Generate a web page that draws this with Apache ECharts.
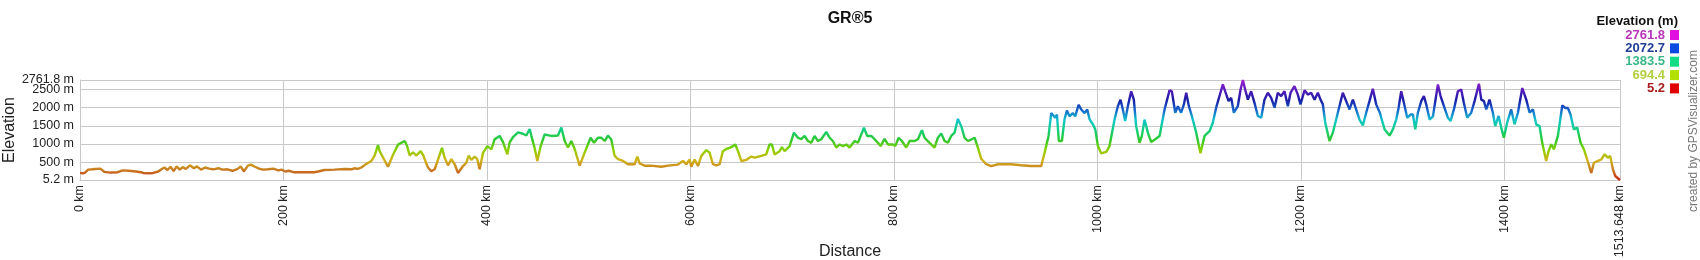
<!DOCTYPE html>
<html>
<head>
<meta charset="utf-8">
<script src="https://cdn.jsdelivr.net/npm/echarts@6.0.0/dist/echarts.min.js"></script>
<style>
  html, body { margin: 0; padding: 0; background: #fff; }
  #chart { width: 1700px; height: 260px; }
</style>
</head>
<body>
<div id="chart"></div>
<script>
const chartTitle = 'GR®5';
const FONT = '"Liberation Sans", Arial, sans-serif';

const distanceKm = [
  0,3,5,8,12,15,20,24,30,37,42,48,55,60,62,68,72,77,80,83,86,89,92,95,98,101,104,108,112,115,119,123,127,131,136,140,145,150,155,158,161,165,168,172,176,180,185,190,195,198,202,205,210,220,230,234,240,250,
  260,267,270,273,276.5,281.4,286.4,289.6,292.9,294.5,302.7,307.7,312.6,319.1,321.4,324,327.3,330.6,334.8,337.1,342,345.3,348.6,351.9,355.8,358.4,361.7,365,368.3,371.5,376.5,379.7,382,384.6,387.9,390.5,392.8,396.1,400.4,404.3,407.6,412.5,415.8,420,422.3,425.6,430.5,435.4,438.7,442,443.6,446.9,449.5,452.8,456.7,463.3,469.8,473.1,476.4,479.6,482.9,486.2,491.1,496,501.9,505.2,509.1,
  512.4,515.7,518.9,522.2,525.5,528.8,533.7,538.6,545.1,547.8,550.1,555,561.5,571.3,577.9,587.7,592.6,595.9,599.2,600.8,604.1,607.4,610.7,615.6,618.8,622.1,625.4,628.7,631.9,635.2,638.5,641.8,644.1,646.7,650,654.9,659.8,663.1,669.6,674.5,677.8,680.1,682.7,687.6,689.9,692.6,697.5,701.7,705.7,708.9,712.2,715.5,718.8,722,725.3,728.6,733.5,736.8,740,743.3,746.6,749.9,753.2,756.4,761.4,764.6,
  767.9,770.5,773.8,777.7,781,784.3,786.9,790.8,794.1,799,801.3,804.6,807.8,812.1,815.4,820.3,823.6,827.5,830.1,835,839.9,843.2,846.5,849.8,853,856.3,859.6,862.9,866.2,869.4,872.7,876,879.3,882.5,885.8,890.7,895.6,902.2,915.3,925.1,935,944.8,948.1,952,954.6,956.3,958.5,960.2,962.1,965.1,967.7,970,972.6,975.9,978.2,981.5,984.1,987.4,990,992.3,995.6,997.9,1000.5,1003.7,1008.7,1011.9,1016.9,1020.1,
  1022.7,1025,1027.3,1029.9,1033.2,1035.8,1038.1,1041.4,1043.7,1046.3,1049.6,1052.9,1056.8,1061.1,1066,1070.9,1073.2,1076.5,1079.1,1082.3,1085,1087.3,1089.9,1092.8,1097.1,1101.3,1105.3,1110.2,1113.5,1116.7,1120,1123.3,1125.6,1128.9,1131.5,1134.1,1138,1140.7,1143,1145.2,1147.9,1151.1,1154.4,1157.7,1161,1164.2,1167.5,1170.8,1174.1,1177.3,1180.6,1183.9,1187.2,1189.8,1193.7,1197,1199.6,1203.6,1206.8,1210.1,1213.4,1216.7,1219.3,1221.6,1223.9,1228.1,1231.4,1236.3,1241.2,1244.5,1247.8,1251.1,1254.3,1257.6,1260.9,1264.2,1267.4,1270.7,1274,1277.6,
  1279,1282.3,1287.2,1290.4,1293.7,1296,1298.6,1301.3,1304.5,1307.8,1310.1,1312.4,1315,1318.3,1320.9,1323.2,1326.5,1329.8,1332.1,1334.7,1337.3,1340.6,1344.5,1347.1,1350.4,1354.3,1357.6,1360.2,1363.5,1367.4,1370.7,1375,1377.3,1379.9,1382.2,1385.4,1388.7,1391,1394.3,1396.9,1399.5,1402.8,1406.7,1410,1413.3,1417.6,1421.5,1424.8,1428.1,1431.3,1434.6,1437.2,1441.1,1443.4,1446.1,1448.7,1452.6,1456.9,1459.8,1462.4,1465,1468.3,1471.6,1474.9,1478.2,1481.4,1485.4,1488,1491.9,1495.2,1498.5,1501.7,1504,1506.7,1509,1513.648
];

const elevationM = [
  200,190,210,290,300,310,320,230,210,220,270,260,240,220,200,190,200,240,300,350,280,370,250,380,290,360,310,410,330,380,290,350,320,300,330,290,300,260,310,380,240,400,430,370,320,290,300,320,270,290,240,260,220,220,220,240,280,290,
  310,300,330,310,350,450,530,680,970,800,370,700,980,1080,950,680,770,680,800,700,350,250,300,570,890,620,410,580,440,200,390,480,680,560,650,580,300,750,940,850,1130,1220,1050,710,1040,1190,1320,1280,1230,1410,1230,880,530,940,1260,1220,1230,1450,1080,900,1080,860,400,760,1170,1030,1170,
  1170,1080,1230,1120,670,580,530,440,440,650,460,400,400,370,400,430,530,440,570,370,570,390,670,830,760,440,410,440,800,860,890,940,985,800,530,560,650,620,670,710,985,985,710,800,910,800,940,1310,1170,1130,1220,1080,1030,1220,1080,1130,1330,1170,1080,900,985,940,985,900,1080,1030,
  1260,1445,1220,1220,1130,1030,940,1140,985,985,940,1170,1080,900,1080,1080,1130,1380,1170,1030,900,1170,1290,1080,1030,1220,1310,1690,1490,1170,1080,1120,1170,900,590,440,390,440,440,410,390,390,760,1220,1850,1900,1720,1810,1080,1080,1680,1920,1760,1850,1760,2080,1950,1850,1950,1680,1540,1400,940,740,780,940,1680,2040,
  2220,1950,1630,2040,2450,2220,1490,1030,1220,1670,1310,1050,1130,1220,1950,2480,2450,1860,2040,1860,2090,2410,2040,1770,1310,740,1220,1350,1590,2000,2320,2640,2450,2180,2270,1860,2040,2500,2761.8,2500,2220,2450,2130,1770,1720,2220,2410,2270,2000,2410,2320,2450,2040,2410,2590,2360,2090,2480,2360,2410,2220,2410,2220,2090,1590,1080,1310,1860,2410,2180,1950,2220,1950,1670,1510,1860,2180,2520,2090,1860,
  1720,1400,1230,1400,1670,1990,2450,2130,1720,1810,1810,1400,1860,2180,2320,2090,1670,1760,2180,2640,2320,2040,1720,1630,1950,2450,2500,2130,1720,1860,2180,2660,2220,2180,1950,2220,1860,1490,1770,1450,1170,1590,1950,1540,1860,2540,2220,1860,1950,1540,1490,1030,530,800,990,850,1220,2060,1990,1990,1810,1400,1450,1030,850,570,200,480,530,570,710,620,670,300,115,5.2
];

const elevMin = 5.2;
const elevMax = 2761.8;
const distMax = 1513.648;

// legend of the elevation colour scale
const legendValues = ['2761.8', '2072.7', '1383.5', '694.4', '5.2'];
const legendTextColors = ['#b935bb', '#1f3d95', '#38b886', '#b2d040', '#a81c1c'];
const legendBoxColors = ['#e010e0', '#0a4ae0', '#12dc84', '#b2e000', '#e00000'];

// line gradient (low -> high)
const lineColors = ['#c82818','#c87a20','#d0b418','#8cd000','#2ec82e','#12cf7e','#14c4cc','#1664cc','#1a1ca6','#5a1cbc','#a020d0'];

const profile = distanceKm.map((d, i) => [d, elevationM[i]]);

const chart = echarts.init(document.getElementById('chart'), null, { renderer: 'canvas' });

const graphics = [
  {
    type: 'text', x: 1678, y: 21,
    style: { text: 'Elevation (m)', font: 'bold 13px ' + FONT, fill: '#111', align: 'right', verticalAlign: 'middle' }
  },
  {
    type: 'text', x: 1694, y: 131, rotation: Math.PI / 2,
    style: { text: 'created by GPSVisualizer.com', font: '12px ' + FONT, fill: '#777', align: 'center', verticalAlign: 'middle' }
  }
];
legendValues.forEach((v, i) => {
  const cy = 35 + i * 13.35;
  graphics.push({
    type: 'text', x: 1665, y: cy,
    style: { text: v, font: 'bold 13px ' + FONT, fill: legendTextColors[i], align: 'right', verticalAlign: 'middle' }
  });
  graphics.push({
    type: 'rect', shape: { x: 1670, y: cy - 5, width: 9, height: 10 },
    style: { fill: legendBoxColors[i] }
  });
});

const yLabelStyle = { margin: 6, fontFamily: FONT, fontSize: 12.5, color: '#222' };

chart.setOption({
  animation: false,
  backgroundColor: '#fff',
  title: {
    text: chartTitle, left: 'center', top: 6,
    textStyle: { fontFamily: FONT, fontSize: 16, fontWeight: 'bold', color: '#111' }
  },
  grid: { left: 80, top: 80, width: 1540, height: 100, containLabel: false, outerBoundsMode: 'none' },
  xAxis: {
    type: 'value', min: 0, max: distMax, interval: 200,
    name: 'Distance', nameLocation: 'middle', nameGap: 64, nameMoveOverlap: false,
    nameTextStyle: { fontFamily: FONT, fontSize: 16, color: '#222' },
    axisLine: { show: true, lineStyle: { color: '#c8c8c8', width: 1 } },
    axisTick: { show: false },
    splitLine: { show: true, lineStyle: { color: '#c8c8c8', width: 1 } },
    axisLabel: {
      rotate: 90, margin: 5, fontFamily: FONT, fontSize: 12.5, color: '#222',
      showMinLabel: true, showMaxLabel: true, hideOverlap: false,
      formatter: v => v + ' km'
    }
  },
  yAxis: [{
    type: 'value', min: elevMin, max: elevMax, splitNumber: 5,
    name: 'Elevation', nameLocation: 'middle', nameGap: 62, nameMoveOverlap: false,
    nameTextStyle: { fontFamily: FONT, fontSize: 16, color: '#222' },
    axisLine: { show: true, lineStyle: { color: '#c8c8c8', width: 1 } },
    axisTick: { show: false },
    splitLine: { show: true, lineStyle: { color: '#c8c8c8', width: 1 } },
    axisLabel: Object.assign({}, yLabelStyle, {
      showMinLabel: true, showMaxLabel: false,
      formatter: v => v + ' m'
    })
  }, {
    // second scale on the same side, carrying only the top (max) label
    type: 'value', min: elevMin, max: elevMax, splitNumber: 5, position: 'left', offset: 0,
    axisLine: { show: false }, axisTick: { show: false }, splitLine: { show: false },
    axisLabel: Object.assign({}, yLabelStyle, {
      showMinLabel: false, showMaxLabel: true,
      formatter: v => (v === elevMax ? v + ' m' : '')
    })
  }],
  visualMap: {
    show: false, type: 'continuous', dimension: 1, seriesIndex: 0,
    min: elevMin, max: elevMax,
    inRange: { color: lineColors }
  },
  series: [{
    type: 'line', data: profile, showSymbol: false, smooth: false, yAxisIndex: 0,
    lineStyle: { width: 2.4 }
  }],
  graphic: graphics
});
</script>
</body>
</html>
